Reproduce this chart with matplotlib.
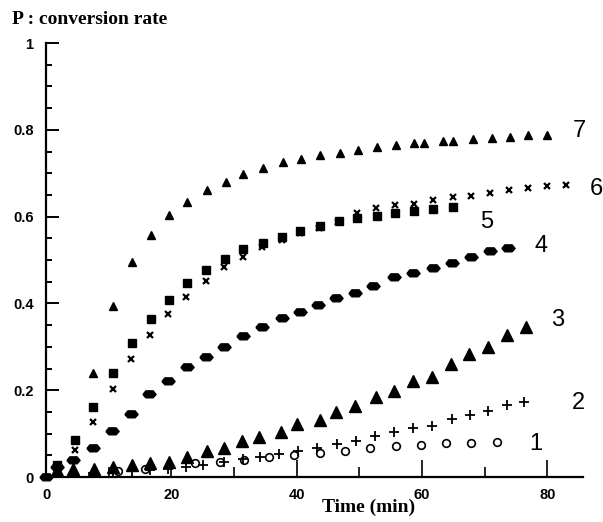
import numpy as np
import matplotlib.pyplot as plt
from matplotlib.ticker import MultipleLocator, FixedLocator

# series 1 : open circles
t1 = [11.5, 15.8, 23.8, 27.8, 31.6, 35.6, 39.6, 43.8, 47.7, 51.7, 55.9, 59.9, 63.9, 67.9, 72.0]
p1 = [0.014, 0.018, 0.032, 0.035, 0.039, 0.046, 0.051, 0.055, 0.060, 0.067, 0.071, 0.074, 0.078, 0.078, 0.081]

# series 2 : plus
t2 = [7.5, 10.7, 13.7, 16.6, 19.5, 22.4, 25.1, 28.4, 31.5, 34.2, 37.2, 40.2, 43.3, 46.5, 49.5, 52.5,
      55.6, 58.6, 61.6, 64.8, 67.7, 70.6, 73.6, 76.3]
p2 = [0.009, 0.012, 0.014, 0.016, 0.018, 0.023, 0.028, 0.035, 0.041, 0.046, 0.053, 0.060, 0.067, 0.076,
      0.083, 0.094, 0.104, 0.113, 0.118, 0.134, 0.143, 0.152, 0.166, 0.173]

# series 3 : big triangles
t3 = [1.8, 4.3, 7.7, 10.7, 13.7, 16.6, 19.6, 22.5, 25.7, 28.4, 31.3, 34.0, 37.5, 40.1, 43.8, 46.3,
      49.3, 52.7, 55.6, 58.6, 61.6, 64.7, 67.5, 70.6, 73.6, 76.6]
p3 = [0.016, 0.018, 0.018, 0.023, 0.028, 0.032, 0.035, 0.046, 0.060, 0.067, 0.083, 0.092, 0.104, 0.122,
      0.131, 0.150, 0.164, 0.184, 0.198, 0.221, 0.230, 0.260, 0.283, 0.300, 0.327, 0.346]

# series 4 : diamonds
t4 = [0.0, 1.8, 4.3, 7.5, 10.5, 13.6, 16.4, 19.5, 22.5, 25.5, 28.4, 31.5, 34.5, 37.7, 40.6, 43.4,
      46.3, 49.3, 52.2, 55.6, 58.6, 61.8, 64.8, 67.9, 70.9, 73.8]
p4 = [0.0, 0.023, 0.039, 0.067, 0.106, 0.145, 0.191, 0.221, 0.253, 0.276, 0.300, 0.325, 0.346, 0.366,
      0.380, 0.396, 0.412, 0.424, 0.440, 0.461, 0.470, 0.482, 0.493, 0.507, 0.521, 0.528]

# series 5 : squares
t5 = [1.8, 4.6, 7.5, 10.7, 13.7, 16.8, 19.6, 22.5, 25.6, 28.6, 31.5, 34.6, 37.7, 40.6, 43.8, 46.8,
      49.7, 52.9, 55.7, 58.8, 61.8, 65.0]
p5 = [0.028, 0.085, 0.161, 0.240, 0.309, 0.364, 0.408, 0.447, 0.477, 0.502, 0.525, 0.539, 0.553, 0.567,
      0.578, 0.590, 0.597, 0.601, 0.608, 0.613, 0.618, 0.622]

# series 6 : crosses
t6 = [4.6, 7.5, 10.7, 13.6, 16.6, 19.5, 22.4, 25.6, 28.4, 31.5, 34.5, 37.7, 40.6, 43.6, 46.6, 49.7,
      52.7, 55.7, 58.8, 61.8, 65.0, 67.9, 70.9, 73.9, 76.9, 80.0, 83.0]
p6 = [0.062, 0.127, 0.203, 0.272, 0.327, 0.376, 0.415, 0.452, 0.484, 0.507, 0.530, 0.546, 0.562, 0.574,
      0.588, 0.608, 0.620, 0.627, 0.629, 0.638, 0.645, 0.647, 0.654, 0.661, 0.666, 0.670, 0.673]

# series 7 : small triangles
t7 = [7.5, 10.7, 13.7, 16.8, 19.6, 22.5, 25.7, 28.8, 31.5, 34.6, 37.8, 40.7, 43.8, 46.9, 49.8, 52.9,
      55.9, 58.8, 60.4, 63.4, 65.0, 68.1, 71.1, 74.0, 77.0, 80.0]
p7 = [0.240, 0.394, 0.495, 0.557, 0.604, 0.634, 0.661, 0.680, 0.698, 0.712, 0.726, 0.733, 0.742, 0.747,
      0.753, 0.760, 0.765, 0.770, 0.770, 0.774, 0.774, 0.779, 0.781, 0.783, 0.788, 0.789]

curve_names = ['1', '2', '3', '4', '5', '6', '7']
x_ticks = [0, 20, 40, 60, 80]
y_ticks = [0, 0.2, 0.4, 0.6, 0.8, 1.0]
y_tick_labels = ['0', '0.2', '0.4', '0.6', '0.8', '1']

fig = plt.figure(figsize=(6.03, 5.22), dpi=100)
ax = fig.add_axes([0.0763, 0.0862, 0.8905, 0.8314])

blob = [(-1, 0), (-0.55, 0.55), (0.55, 0.55), (1, 0), (0.55, -0.5), (-0.55, -0.5), (-1, 0)]

ax.plot(t1, p1, ls='none', marker='o', ms=5.5, mfc='white', mec='black', mew=1.2, clip_on=False)
ax.plot(t2, p2, ls='none', marker='+', ms=6.5, mec='black', mew=1.3, clip_on=False)
ax.plot(t3, p3, ls='none', marker='^', ms=8.5, color='black', clip_on=False)
ax.plot(t4, p4, ls='none', marker=blob, ms=9.5, color='black', clip_on=False)
ax.plot(t5, p5, ls='none', marker='s', ms=6, color='black', clip_on=False)
ax.plot(t6, p6, ls='none', marker='x', ms=5, mec='black', mew=1.6, clip_on=False)
ax.plot(t7, p7, ls='none', marker='^', ms=5.5, color='black', clip_on=False)

# curve numbers
label_pos = [(78.1, 0.076), (84.9, 0.171), (81.6, 0.362), (79.0, 0.532),
             (70.4, 0.588), (87.8, 0.664), (85.1, 0.797)]
for name, (x, y) in zip(curve_names, label_pos):
    ax.text(x, y, name, fontsize=17, family='Liberation Sans', ha='center', va='center')

ax.set_xlim(0, 85.7)
ax.set_ylim(0, 1.0)
for s in ['top', 'right']:
    ax.spines[s].set_visible(False)
for s in ['left', 'bottom']:
    ax.spines[s].set_linewidth(1.6)

ax.xaxis.set_major_locator(FixedLocator(x_ticks))
ax.xaxis.set_minor_locator(FixedLocator([10, 30, 50, 70]))
ax.set_yticks(y_ticks)
ax.set_yticklabels(y_tick_labels)
ax.yaxis.set_minor_locator(MultipleLocator(0.05))

ax.tick_params(axis='x', which='major', direction='in', length=12, width=1.2, pad=8)
ax.tick_params(axis='x', which='minor', direction='in', length=7, width=1.2)
ax.tick_params(axis='y', which='major', direction='in', length=9, width=1.4, pad=9)
ax.tick_params(axis='y', which='minor', direction='in', length=4.5, width=1.4)
for lab in ax.get_xticklabels() + ax.get_yticklabels():
    lab.set_family('Liberation Sans')
    lab.set_fontweight('bold')
    lab.set_fontsize(10.5)

fig.text(12 / 603, 1 - 20 / 522, 'P : conversion rate', family='Liberation Serif',
         fontweight='bold', fontsize=14, ha='left', va='center')
fig.text(369 / 603, 1 - 507 / 522, 'Time (min)', family='Liberation Serif',
         fontweight='bold', fontsize=14, ha='center', va='center')

fig.savefig('out.png', dpi=100)
